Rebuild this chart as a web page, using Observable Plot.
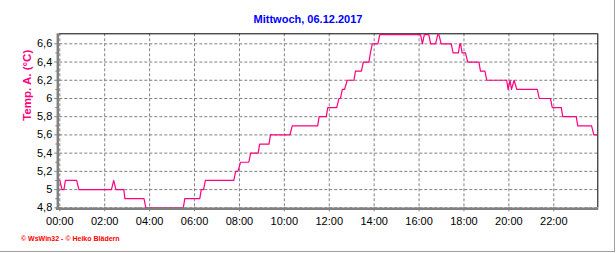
<!DOCTYPE html>
<html>
<head>
<meta charset="utf-8">
<script src="https://cdn.jsdelivr.net/npm/d3@7"></script>
<script src="https://cdn.jsdelivr.net/npm/@observablehq/plot@0.6"></script>
<style>
  html, body { margin: 0; padding: 0; background: #fff; }
  #wrap { position: relative; width: 616px; height: 253px; overflow: hidden; font-family: "Liberation Sans", Arial, sans-serif; }
  #border { position: absolute; left: 0; top: 0; width: 614px; height: 251px; border-right: 1px solid #a0a0a0; border-bottom: 1px solid #a0a0a0; }
  #title { position: relative; height: 28px; box-sizing: border-box; padding-top: 12px; line-height: 14px; text-align: center; font-weight: bold; font-size: 11px; color: #0000ff; }
  #chart { position: relative; height: 202px; }
  #chart svg { display: block; max-width: none; }
  #footer { position: relative; padding-left: 21px; padding-top: 4px; line-height: 9px; font-size: 7px; font-weight: bold; color: #ff0000; }
</style>
</head>
<body>
<div id="wrap">
  <div id="border"></div>
  <div id="title"></div>
  <div id="chart"></div>
  <div id="footer"></div>
</div>
<script>
const titleText = "Mittwoch, 06.12.2017";
const yLabel = "Temp. A. (°C)";
const footerText = "© WsWin32 - © Heiko Blädern";

const times = [
  "00:00","00:06","00:11","00:15","00:45","00:51","02:18","02:24","02:30","02:51",
  "02:54","03:45","03:50","05:30","05:34","06:14","06:18","06:24","06:29","07:45",
  "07:50","07:56","08:03","08:25","08:30","08:50","08:54","09:19","09:23","10:15",
  "10:21","11:29","11:33","11:52","11:56","12:20","12:26","12:30","12:35","12:41",
  "12:48","13:06","13:10","13:26","13:31","13:46","13:50","13:55","14:10","14:15",
  "16:04","16:09","16:14","16:26","16:31","16:44","16:50","16:53","16:59","17:26",
  "17:31","17:45","17:49","17:51","17:55","18:04","18:10","18:40","18:44","18:56",
  "19:01","19:54","19:58","20:03","20:07","20:14","20:21","21:16","21:21","21:51",
  "21:56","22:20","22:24","23:00","23:04","23:41","23:47","23:55"
];
const temps = [
  5.1,5.0,5.0,5.1,5.1,5.0,5.0,5.1,5.0,5.0,
  4.9,4.9,4.8,4.8,4.9,4.9,5.0,5.0,5.1,5.1,
  5.2,5.2,5.3,5.3,5.4,5.4,5.5,5.5,5.6,5.6,
  5.7,5.7,5.8,5.8,5.9,5.9,6.0,6.0,6.1,6.1,
  6.2,6.2,6.3,6.3,6.4,6.4,6.5,6.6,6.6,6.7,
  6.7,6.6,6.7,6.7,6.6,6.6,6.7,6.7,6.6,6.6,
  6.5,6.5,6.6,6.6,6.5,6.5,6.4,6.4,6.3,6.3,
  6.2,6.2,6.1,6.2,6.1,6.2,6.1,6.1,6.0,6.0,
  5.9,5.9,5.8,5.8,5.7,5.7,5.6,5.6
];

const xTicks = [0,2,4,6,8,10,12,14,16,18,20,22];
const xTickLabels = ["00:00","02:00","04:00","06:00","08:00","10:00","12:00","14:00","16:00","18:00","20:00","22:00"];
const xMinorTicks = d3.range(0, 24, 0.5);
const xMin = 0, xMax = 23.96;

const yTicks = [4.8,5.0,5.2,5.4,5.6,5.8,6.0,6.2,6.4,6.6];
const yTickLabels = ["4,8","5","5,2","5,4","5,6","5,8","6","6,2","6,4","6,6"];
const yMinorTicks = [4.9,5.1,5.3,5.5,5.7,5.9,6.1,6.3,6.5];
const yMin = 4.8, yMax = 6.71;

const toHours = s => { const [h, m] = s.split(":").map(Number); return h + m / 60; };
const data = times.map((t, i) => ({h: toHours(t), v: temps[i]}));

document.getElementById("title").textContent = titleText;
document.getElementById("footer").textContent = footerText;

const gray = "#808080";
const chart = Plot.plot({
  width: 616,
  height: 202,
  marginLeft: 59.3,
  marginRight: 18.7,
  marginTop: 5.3,
  marginBottom: 22.7,
  style: {fontFamily: "'Liberation Sans', Arial, sans-serif", fontSize: "11px", color: "black", background: "transparent", overflow: "visible"},
  x: {domain: [xMin, xMax], label: null},
  y: {domain: [yMin, yMax], label: null},
  marks: [
    Plot.gridX(xTicks, {stroke: gray, strokeOpacity: 1, strokeDasharray: "3,2"}),
    Plot.gridY(yTicks, {stroke: gray, strokeOpacity: 1, strokeDasharray: "3,2"}),
    Plot.ruleY([yMax], {stroke: "black", strokeWidth: 1}),
    Plot.ruleX([xMax], {stroke: "black", strokeWidth: 1}),
    Plot.line(data, {x: "h", y: "v", stroke: "#ff0080", strokeWidth: 1.2}),
    Plot.ruleY([yMin], {stroke: gray, strokeWidth: 2.5, dy: 1, insetLeft: -3.5, insetRight: -1}),
    Plot.ruleX([xMin], {stroke: gray, strokeWidth: 2.5, dx: -2, insetBottom: -2}),
    Plot.axisX(xTicks, {label: null, tickSize: 4, tickPadding: 5, stroke: gray, fill: "black", tickFormat: d => xTickLabels[xTicks.indexOf(d)]}),
    Plot.axisX(xMinorTicks, {label: null, tickSize: 2.5, stroke: gray, tickFormat: () => ""}),
    Plot.axisY(yTicks, {label: null, tickSize: 5, tickPadding: 2.5, stroke: gray, fill: "black", tickFormat: d => yTickLabels[yTicks.indexOf(d)]}),
    Plot.axisY(yMinorTicks, {label: null, tickSize: 4, stroke: gray, tickFormat: () => ""}),
    Plot.text([yLabel], {frameAnchor: "left", rotate: -90, dx: -32, fill: "#ff0080", fontWeight: "bold", fontSize: 11.5})
  ]
});
document.getElementById("chart").appendChild(chart);
</script>
</body>
</html>
